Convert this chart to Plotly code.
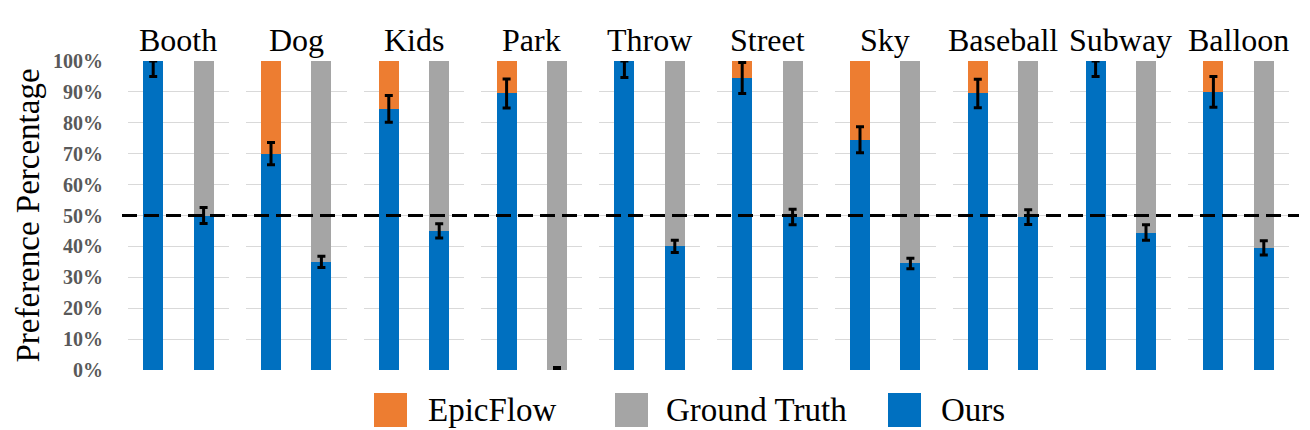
import plotly.graph_objects as go
from plotly.subplots import make_subplots

groups = ["Booth", "Dog", "Kids", "Park", "Throw", "Street", "Sky", "Baseball", "Subway", "Balloon"]
pair_labels = ["vs EpicFlow", "vs Ground Truth"]
ours_vs_epic = [100, 70, 84.5, 89.5, 100, 94.5, 74.5, 89.5, 100, 90]
err_epic = [5, 3.6, 4.3, 4.7, 5.3, 5, 4.2, 4.6, 5, 5]
ours_vs_gt = [50, 35, 45, 0, 40, 49.5, 34.5, 49.5, 44.5, 39.5]
err_gt = [2.6, 1.8, 2.3, 0.8, 2, 2.5, 1.7, 2.4, 2.5, 2.3]
tick_vals = [0, 10, 20, 30, 40, 50, 60, 70, 80, 90, 100]
tick_text = ["0%", "10%", "20%", "30%", "40%", "50%", "60%", "70%", "80%", "90%", "100%"]
legend_names = ["EpicFlow", "Ground Truth", "Ours"]
chance_level = 50

BLUE = "#0070C0"
ORANGE = "#ED7D31"
GRAY = "#A5A5A5"
FONT = "Liberation Serif"

OFF = 8  # page body margin
W, H = 1310 - OFF, 430 - OFF
L, T = 128 - OFF, 61 - OFF
R = W - (1289 - OFF)
B = H - (370 - OFF)
PW = W - L - R
PH = H - T - B

n = len(groups)
fig = make_subplots(rows=1, cols=n, shared_yaxes=True, horizontal_spacing=17 / PW)

for i in range(n):
    col = i + 1
    ours = [ours_vs_epic[i], ours_vs_gt[i]]
    errs = [err_epic[i], err_gt[i]]
    fig.add_trace(go.Bar(x=pair_labels, y=ours, marker=dict(color=BLUE, line=dict(width=0)),
                         name=legend_names[2], showlegend=False), row=1, col=col)
    fig.add_trace(go.Bar(x=pair_labels, y=[100 - ours_vs_epic[i], 0], marker=dict(color=ORANGE, line=dict(width=0)),
                         name=legend_names[0], showlegend=False), row=1, col=col)
    fig.add_trace(go.Bar(x=pair_labels, y=[0, 100 - ours_vs_gt[i]], marker=dict(color=GRAY, line=dict(width=0)),
                         name=legend_names[1], showlegend=False), row=1, col=col)
    up = [min(e, 100 - v) for e, v in zip(errs, ours)]
    down = [min(e, v) if v > 0 else 0 for e, v in zip(errs, ours)]
    fig.add_trace(go.Scatter(x=pair_labels, y=ours, mode="markers",
                             marker=dict(size=1, color="rgba(0,0,0,0)"),
                             error_y=dict(type="data", symmetric=False, array=up, arrayminus=down,
                                          color="black", thickness=3, width=4),
                             showlegend=False, hoverinfo="skip", cliponaxis=False), row=1, col=col)
    fig.update_xaxes(row=1, col=col, type="category", range=[-0.5, 1.5], showticklabels=False,
                     showgrid=False, zeroline=False, showline=False, ticks="")
    fig.update_yaxes(row=1, col=col, range=[0, 100], tickvals=tick_vals, ticktext=tick_text,
                     showgrid=True, gridcolor="#D9D9D9", gridwidth=1, zeroline=False, showline=False,
                     ticks="", showticklabels=(i == 0),
                     tickfont=dict(family=FONT, size=20, color="#595959", weight="bold"))
    xa = fig.layout["xaxis" if i == 0 else f"xaxis{i+1}"]
    cx = (xa.domain[0] + xa.domain[1]) / 2
    fig.add_annotation(x=cx, y=1, xref="paper", yref="paper", xanchor="center", yanchor="bottom",
                       text=groups[i], showarrow=False, yshift=1,
                       font=dict(family=FONT, size=32, color="black"))

fig.update_yaxes(row=1, col=1, ticklabelstandoff=24)


def px_x(p):
    return (p - OFF - L) / PW


def px_y(p):
    return (T + PH - (p - OFF)) / PH


# chance line
fig.add_shape(type="line", xref="paper", yref="y", x0=px_x(122), x1=px_x(1299),
              y0=chance_level, y1=chance_level, line=dict(color="black", width=3, dash="15px,7px"),
              layer="above")

# y title
fig.add_annotation(x=px_x(27), y=0.5, xref="paper", yref="paper", xanchor="center", yanchor="middle",
                   text="Preference Percentage", textangle=-90, showarrow=False,
                   font=dict(family=FONT, size=33, color="black"))

# manual legend
legend_items = [(legend_names[0], ORANGE, 374, 426), (legend_names[1], GRAY, 615, 664), (legend_names[2], BLUE, 888, 939)]
for name, color, sx, tx in legend_items:
    fig.add_shape(type="rect", xref="paper", yref="paper", x0=px_x(sx), x1=px_x(sx + 33),
                  y0=px_y(427), y1=px_y(393), fillcolor=color, line=dict(width=0))
    fig.add_annotation(x=px_x(tx), y=px_y(410), xref="paper", yref="paper", xanchor="left", yanchor="middle",
                       text=name, showarrow=False, font=dict(family=FONT, size=33, color="black"))

fig.update_layout(width=W, height=H, margin=dict(l=L, r=R, t=T, b=B, autoexpand=False),
                  barmode="stack", bargap=0.6, plot_bgcolor="white", paper_bgcolor="white",
                  showlegend=False)

fig.write_html("out.html")
